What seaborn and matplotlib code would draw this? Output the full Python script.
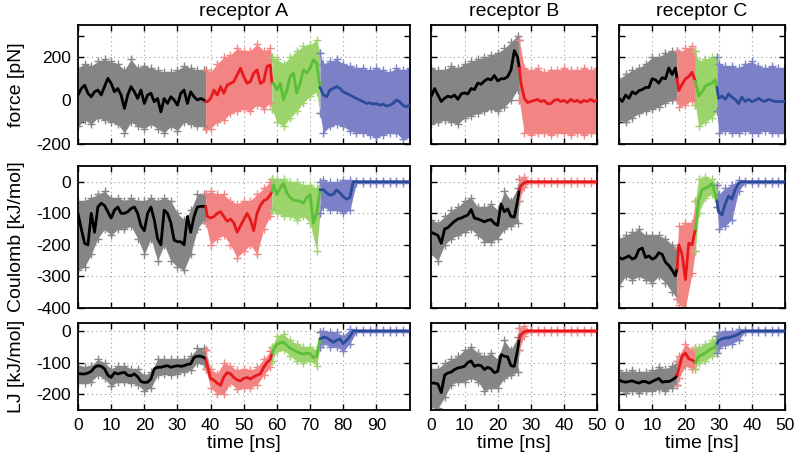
import numpy as np
import pandas as pd
import matplotlib
matplotlib.use("Agg")
import matplotlib.pyplot as plt
from matplotlib.ticker import FixedLocator
import seaborn as sns

sns.set_style("ticks", rc={"axes.edgecolor": "black", "xtick.color": "black",
                           "ytick.color": "black", "text.color": "black",
                           "axes.labelcolor": "black"})
plt.rcParams['font.family'] = ['Liberation Sans', 'DejaVu Sans']
plt.rcParams['axes.unicode_minus'] = False

# time samples (ns) for the running averages and for the envelope of the raw points
t_line_a = np.sort(np.r_[np.arange(0, 101), 38.5, 58.5])
t_band_a = np.sort(np.r_[np.arange(0, 101, 2), 38.5, 58.5, 73])
t_line_b = np.sort(np.r_[np.arange(0, 51), 26.5])
t_band_b = np.sort(np.r_[np.arange(0, 51, 2), 26.5])
t_line_c = np.sort(np.r_[np.arange(0, 51), 17.5, 29.5])
t_band_c = np.sort(np.r_[np.arange(0, 51, 2), 17.5, 23, 29.5])

# phase boundaries (ns)
bounds_a = [0, 38.5, 58.5, 73, 100]
bounds_b = [0, 26.5, 50]
bounds_c = [0, 17.5, 23, 29.5, 50]
phases_a = ["gray", "red", "green", "blue"]
phases_b = ["gray", "red"]
phases_c = ["gray", "red", "green", "blue"]

# ---- receptor A ----
force_a = [25, 55, 70, 33, 17, 40, 48, 25, 64, 102, 79, 40, 55, 25, -37, 25, 64, 40, 9, 48,
           -14, 25, 33, -6, 9, -53, 9, -14, 17, 2, -22, 33, 48, -14, 40, 17, 2, 9, 2,
           -5,
           -6, 9, 48, 25, 64, 33, 71, 79, 87, 118, 149, 110, 79, 87, 126, 141, 79, 87, 157, 164,
           79,
           79, 48, 79, 2, 48, 110, 126, 33, 79, 141, 126, 149, 188, 172, 60, 25, 17, 48, 55, 64,
           55, 40, 33, 25, 17, 9, 2, -6, -14, -11, -17, -14, -22, -17, -26, -22, -14, 2, -6, -22,
           -30, -22]
coul_a = [-100, -150, -195, -200, -100, -160, -80, -68, -75, -95, -115, -90, -80, -100, -100, -95, -85, -80, -100, -140,
          -155, -100, -80, -120, -180, -200, -90, -100, -130, -185, -190, -190, -200, -110, -160, -110, -80, -78, -78,
          -78,
          -110, -115, -110, -100, -95, -110, -125, -118, -130, -160, -140, -120, -100, -120, -155, -100, -75, -60, -55, -42,
          -30,
          -10, -40, -20, -5, -35, -50, -58, -60, -62, -68, -50, -40, -130, -100, -25, -25, -35, -42, -40, -26,
          -35, -47, -55, -50, 0, 0, 0, 0, 0, 0, 0, 0, 0, 0, 0, 0, 0, 0, 0, 0, 0, 0]
lj_a = [-135, -136, -136, -133, -128, -115, -110, -112, -120, -140, -147, -132, -136, -133, -131, -140, -142, -136, -145, -160,
        -163, -162, -152, -120, -115, -115, -112, -110, -115, -112, -110, -112, -110, -106, -104, -84, -80, -80, -84,
        -90,
        -110, -150, -156, -165, -172, -145, -132, -135, -147, -155, -158, -150, -147, -152, -145, -140, -136, -115, -100, -90,
        -70,
        -60, -42, -38, -36, -45, -55, -60, -66, -70, -73, -70, -72, -84, -80, -25, -20, -22, -28, -36, -30,
        -25, -40, -30, -18, 0, 0, 0, 0, 0, 0, 0, 0, 0, 0, 0, 0, 0, 0, 0, 0, 0, 0]

force_a_hi = [150, 170, 160, 180, 190, 180, 170, 140, 190, 150, 160, 150, 140, 130, 130, 140, 160, 150, 140, 140,
              140,
              130, 170, 200, 210, 240, 230, 230, 260, 230, 240,
              200,
              190, 170, 200, 230, 250, 255, 280,
              220,
              170, 180, 190, 170, 160, 150, 150, 140, 150, 140, 130, 150, 140, 150]
force_a_lo = [-120, -90, -110, -80, -90, -100, -110, -150, -100, -120, -130, -110, -130, -150, -120, -140, -100, -110, -120, -120,
              -130,
              -130, -100, -90, -60, -50, -40, -50, -20, -40, -10,
              -40,
              -100, -120, -80, -50, -10, 20, 40,
              -60,
              -150, -120, -110, -120, -140, -150, -150, -160, -170, -160, -150, -150, -180, -170]
coul_a_hi = [-60, -60, -50, -40, -30, -50, -50, -60, -50, -60, -60, -50, -60, -50, -60, -100, -120, -90, -40, -40,
             -40,
             -30, -40, -40, -60, -70, -60, -60, -40, -20, 0,
             10,
             10, 10, 0, 0, -10, -10, -20,
             0,
             5, 0, 0, 5, 5, 3, 3, 3, 3, 3, 3, 3, 3, 3]
coul_a_lo = [-280, -270, -230, -180, -150, -170, -150, -150, -140, -180, -230, -180, -250, -200, -250, -270, -280, -230, -150, -120,
             -130,
             -200, -180, -170, -200, -240, -220, -200, -230, -150, -110,
             -90,
             -100, -110, -110, -120, -110, -130, -220,
             -100,
             -80, -90, -90, -100, -90, -3, -3, -3, -3, -3, -3, -3, -3, -3]
lj_a_hi = [-110, -115, -110, -90, -100, -120, -110, -110, -120, -120, -140, -130, -90, -90, -90, -90, -90, -80, -55, -55,
           -60,
           -120, -135, -100, -110, -125, -120, -125, -115, -90, -65,
           -50,
           -15, -10, -30, -40, -50, -50, -60,
           -5,
           0, -5, -5, -15, 5, 3, 3, 3, 3, 3, 3, 3, 3, 3]
lj_a_lo = [-165, -165, -160, -140, -150, -175, -160, -160, -165, -170, -190, -180, -140, -135, -140, -135, -130, -125, -100, -105,
           -120,
           -180, -200, -200, -165, -185, -180, -180, -170, -140, -115,
           -95,
           -65, -60, -80, -95, -100, -95, -110,
           -50,
           -40, -50, -50, -65, -40, -3, -3, -3, -3, -3, -3, -3, -3, -3]

# ---- receptor B ----
force_b = [20, 55, 25, -5, 10, 20, 15, 25, 5, 30, 35, 30, 55, 50, 80, 75, 90, 100, 95, 115, 90, 100, 100, 110, 140, 230, 200,
           150,
           80, 10, -10, -5, 0, 5, -5, 0, -15, -15, 0, 5, -5, 0, -10, 5, -5, 0, -10, 0, -5, 5, -5, 0]
coul_b = [-160, -165, -170, -195, -150, -145, -135, -125, -118, -115, -110, -105, -88, -115, -118, -122, -127, -122, -120, -132,
          -138, -70, -95, -86, -110, -112, -60,
          -25,
          -12, -3, 0, 0, 0, 0, 0, 0, 0, 0, 0, 0, 0, 0, 0, 0, 0, 0, 0, 0, 0, 0, 0, 0]
lj_b = [-165, -165, -168, -195, -140, -133, -130, -122, -117, -115, -112, -100, -95, -112, -108, -110, -122, -115, -120, -132,
        -128, -75, -80, -82, -110, -112, -60,
        -25,
        -12, -3, 0, 0, 0, 0, 0, 0, 0, 0, 0, 0, 0, 0, 0, 0, 0, 0, 0, 0, 0, 0, 0, 0]

force_b_hi = [150, 140, 140, 160, 150, 170, 180, 190, 200, 210, 220, 240, 270, 300, 280,
              150, 140, 150, 130, 140, 140, 150, 140, 140, 150, 140, 150]
force_b_lo = [-110, -100, -90, -100, -110, -80, -70, -60, -50, -40, -50, -30, 0, 50, 0,
              -150, -160, -150, -150, -160, -150, -150, -160, -150, -160, -150, -150]
coul_b_hi = [-120, -130, -110, -90, -80, -60, -50, -80, -80, -70, -90, -30, -60, -20, 10,
             15, 3, 3, 3, 3, 3, 3, 3, 3, 3, 3, 3]
coul_b_lo = [-230, -250, -200, -180, -170, -160, -150, -170, -190, -190, -180, -150, -140, -130, -60,
             -15, -3, -3, -3, -3, -3, -3, -3, -3, -3, -3, -3]
lj_b_hi = [-120, -120, -100, -90, -80, -60, -50, -70, -80, -70, -90, -30, -60, -20, 10,
           15, 3, 3, 3, 3, 3, 3, 3, 3, 3, 3, 3]
lj_b_lo = [-240, -245, -210, -170, -160, -160, -150, -160, -190, -180, -180, -150, -140, -130, -60,
           -15, -3, -3, -3, -3, -3, -3, -3, -3, -3, -3, -3]

# ---- receptor C ----
force_c = [10, -5, 25, 10, 40, 30, 45, 50, 60, 60, 100, 95, 80, 105, 100, 150, 120, 150,
           100,
           45, 75, 100, 110, 130, 90, 20, 40, 65, 75, 80, 95,
           60,
           10, 20, 5, 30, 15, 5, -15, 15, -5, 5, -5, 0, 10, 0, -5, 5, 0, -5, -5, -5, -5]
coul_c = [-240, -245, -240, -235, -245, -240, -215, -210, -240, -235, -245, -240, -225, -230, -255, -265, -280, -298,
          -275,
          -200, -230, -310, -195, -200, -150, -60, -25, -20, -15, -5, -40,
          -60,
          -95, -105, -70, -45, -55, -25, -5, 0, 0, 0, 0, 0, 0, 0, 0, 0, 0, 0, 0, 0, 0]
lj_c = [-155, -160, -162, -160, -158, -162, -165, -160, -160, -165, -160, -155, -150, -162, -160, -160, -155, -148,
        -140,
        -120, -80, -70, -88, -92, -100, -80, -75, -70, -62, -55, -50,
        -40,
        -30, -25, -22, -22, -18, -15, -10, -3, 0, 0, 0, 0, 0, 0, 0, 0, 0, 0, 0, 0, 0]

force_c_hi = [100, 120, 140, 150, 170, 200, 200, 220, 230, 230, 220, 240, 250, 230, 180, 190, 200, 200,
              170, 160, 160, 150, 170, 180, 160, 150, 160, 150, 150]
force_c_lo = [-90, -100, -80, -60, -50, -40, -30, -10, 0, 0, -30, -20, 0, -20, -120, -100, -80, -50,
              -150, -140, -150, -150, -140, -150, -150, -140, -150, -150, -150]
coul_c_hi = [-180, -170, -160, -150, -170, -170, -170, -180, -200, -210, -140, -130, -130, -60, 10, 15, 10, -10,
             -40, -20, -10, 5, 3, 3, 3, 3, 3, 3, 3]
coul_c_lo = [-330, -300, -310, -300, -310, -320, -300, -320, -350, -370, -390, -400, -290, -220, -100, -50, -40, -80,
             -150, -140, -120, -30, -3, -3, -3, -3, -3, -3, -3]
lj_c_hi = [-125, -130, -125, -130, -130, -125, -115, -120, -110, -95, -80, -40, -60, -55, -50, -40, -30, -15,
           -5, 0, 0, 5, 3, 3, 3, 3, 3, 3, 3]
lj_c_lo = [-190, -195, -190, -195, -190, -190, -185, -190, -180, -170, -150, -110, -120, -120, -100, -95, -80, -70,
           -55, -45, -40, -30, -3, -3, -3, -3, -3, -3, -3]

titles = ["receptor A", "receptor B", "receptor C"]
ylabels = ["force [pN]", "Coulomb [kJ/mol]", "LJ [kJ/mol]"]
xlabel = "time [ns]"

# raw-point colour, running-average colour
colors = {
    "gray": ("#858585", "#000000"),
    "red": ("#f28484", "#e8191c"),
    "green": ("#9ad46a", "#5cbf3a"),
    "blue": ("#7c80c6", "#2b4b9b"),
}

W, H = 802, 458
col_px = [(78, 409.5), (431.3, 597.3), (619, 785)]
row_px = [(24.7, 143.7), (166, 308), (323, 410)]
ylims = [(-200, 350), (-400, 50), (-250, 25)]
ymajor = [[-200, 0, 200], [-400, -300, -200, -100, 0], [-200, -100, 0]]
yminor = [[-100, 100, 300], [], []]

columns = [
    (t_line_a, t_band_a, bounds_a, phases_a, (0, 100), np.arange(0, 91, 10),
     [(force_a, force_a_hi, force_a_lo), (coul_a, coul_a_hi, coul_a_lo), (lj_a, lj_a_hi, lj_a_lo)]),
    (t_line_b, t_band_b, bounds_b, phases_b, (0, 50), np.arange(0, 51, 10),
     [(force_b, force_b_hi, force_b_lo), (coul_b, coul_b_hi, coul_b_lo), (lj_b, lj_b_hi, lj_b_lo)]),
    (t_line_c, t_band_c, bounds_c, phases_c, (0, 50), np.arange(0, 51, 10),
     [(force_c, force_c_hi, force_c_lo), (coul_c, coul_c_hi, coul_c_lo), (lj_c, lj_c_hi, lj_c_lo)]),
]

fig = plt.figure(figsize=(W / 100, H / 100), dpi=100)

for ci, (t_line, t_band, bounds, phases, xlim, xticks, series) in enumerate(columns):
    x0, x1 = col_px[ci]
    for ri, (line, hi, lo) in enumerate(series):
        top, bot = row_px[ri]
        ax = fig.add_axes([x0 / W, 1 - bot / H, (x1 - x0) / W, (bot - top) / H])
        line = np.asarray(line, float)
        hi = np.asarray(hi, float)
        lo = np.asarray(lo, float)
        for start, end, ph in zip(bounds[:-1], bounds[1:], phases):
            light, dark = colors[ph]
            mb = (t_band >= start) & (t_band <= end)
            ax.fill_between(t_band[mb], lo[mb], hi[mb], color=light, lw=0, zorder=1)
            edge = pd.DataFrame({"t": np.r_[t_band[mb], t_band[mb]],
                                 "v": np.r_[hi[mb], lo[mb]]})
            sns.scatterplot(data=edge, x="t", y="v", marker="+", color=light, s=40,
                            linewidth=1.0, ax=ax, zorder=2, legend=False)
            ml = (t_line >= start) & (t_line <= end)
            sns.lineplot(x=t_line[ml], y=line[ml], color=dark, lw=2.0, ax=ax, zorder=3,
                         estimator=None, sort=False)

        ax.set_xlim(xlim)
        ax.set_ylim(ylims[ri])
        ax.xaxis.set_major_locator(FixedLocator(xticks))
        ax.yaxis.set_major_locator(FixedLocator(ymajor[ri]))
        ax.yaxis.set_minor_locator(FixedLocator(yminor[ri]))
        ax.grid(True, which="major", color="#9a9a9a", ls=(0, (1, 3)), lw=0.8)
        ax.set_axisbelow(True)
        ax.tick_params(which="both", direction="in", top=True, right=True,
                       length=4, width=1, labelsize=12.5, color="black")
        ax.tick_params(axis="x", pad=6)
        ax.tick_params(axis="y", pad=5)
        for sp in ax.spines.values():
            sp.set_linewidth(1.3)
            sp.set_color("black")
            sp.set_visible(True)
        ax.set_xlabel("")
        ax.set_ylabel("")
        if ri < 2:
            ax.tick_params(labelbottom=False)
        else:
            ax.set_xlabel(xlabel, fontsize=14, labelpad=1)
        if ci > 0:
            ax.tick_params(labelleft=False)
        else:
            ax.set_ylabel(ylabels[ri], fontsize=14)
            ax.yaxis.set_label_coords(-0.16, 0.5)
        if ri == 0:
            ax.set_title(titles[ci], fontsize=14, pad=6)

fig.savefig("out.png", dpi=100)
